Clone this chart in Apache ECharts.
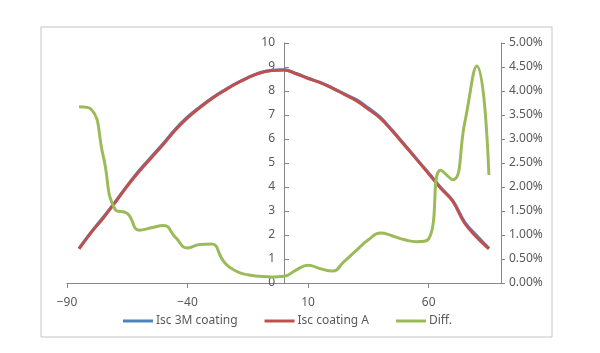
<!DOCTYPE html>
<html>
<head>
<meta charset="utf-8">
<script src="https://cdn.jsdelivr.net/npm/echarts@6/dist/echarts.min.js"></script>
<style>
  html, body { margin: 0; padding: 0; background: #fff; }
  #chart { width: 600px; height: 353px; }
</style>
</head>
<body>
<div id="chart"></div>
<script>
// angle in degrees
const angles = [-85, -80, -75, -70, -65, -60, -55, -50, -45, -40, -35, -30, -25, -20, -15, -10, -5, 0,
  5, 10, 15, 20, 25, 30, 35, 40, 45, 50, 55, 60, 65, 70, 75, 80, 85]
const isc3M = [1.44, 2.12, 2.74, 3.38, 4.06, 4.70, 5.26, 5.82, 6.42, 6.92, 7.33, 7.70, 8.02, 8.31, 8.56, 8.76, 8.86, 8.89,
  8.73, 8.53, 8.36, 8.13, 7.88, 7.64, 7.29, 6.90, 6.35, 5.76, 5.17, 4.58, 3.98, 3.43, 2.53, 1.97, 1.45]
const iscA = [1.42, 2.10, 2.70, 3.36, 4.04, 4.66, 5.22, 5.78, 6.38, 6.88, 7.30, 7.68, 8.00, 8.30, 8.55, 8.75, 8.85, 8.88,
  8.72, 8.52, 8.35, 8.12, 7.86, 7.60, 7.24, 6.86, 6.32, 5.74, 5.15, 4.55, 3.95, 3.40, 2.48, 1.90, 1.42]
const diffPct = [3.67, 3.62, 2.65, 1.53, 1.45, 1.10, 1.15, 1.20, 0.95, 0.73, 0.80, 0.81, 0.45, 0.25, 0.17, 0.14, 0.125, 0.14,
  0.27, 0.37, 0.30, 0.25, 0.45, 0.68, 0.90, 1.04, 0.98, 0.90, 0.86, 0.92, 2.35, 2.15, 3.35, 4.52, 2.25]
const legendNames = ['Isc 3M coating', 'Isc coating A', 'Diff.']

const pairs = vals => angles.map((a, i) => [a, vals[i]])
const txt = '#595959'
const axisGray = '#868686'
const font = 'Noto Sans'
const gridLeft = 67, gridRight = 99

let myChart = echarts.init(document.getElementById('chart'))
// left value axis sits on angle 0, in the middle of the plot
const midOffset = -(600 - gridLeft - gridRight) / 2

myChart.setOption({
  animation: false,
  textStyle: { fontFamily: font },
  grid: { left: gridLeft, right: gridRight, top: 43, bottom: 70 },
  legend: {
    bottom: 21,
    left: 118,
    data: legendNames,
    icon: 'rect',
    itemWidth: 30,
    itemHeight: 3,
    itemGap: 27,
    textStyle: { color: txt, fontSize: 12, fontFamily: font, padding: [0, 0, 0, -2] }
  },
  graphic: [{
    type: 'rect',
    shape: { x: 41, y: 27, width: 511, height: 310 },
    style: { fill: 'none', stroke: '#c4c4c4', lineWidth: 1 },
    silent: true
  }],
  xAxis: {
    type: 'value',
    min: -90,
    max: 90,
    interval: 50,
    splitLine: { show: false },
    axisLine: { show: true, lineStyle: { color: axisGray } },
    axisTick: { show: true, length: 5, lineStyle: { color: axisGray } },
    axisLabel: {
      color: txt,
      fontSize: 12,
      margin: 14,
      showMaxLabel: false,
      formatter: v => v < 0 ? '\u2212' + Math.abs(v) : String(v)
    }
  },
  yAxis: [
    {
      type: 'value',
      min: 0,
      max: 10,
      interval: 1,
      offset: midOffset,
      splitLine: { show: false },
      axisLine: { show: true, onZero: false, lineStyle: { color: axisGray } },
      axisTick: { show: true, inside: true, length: 5, lineStyle: { color: axisGray } },
      axisLabel: { color: txt, fontSize: 12, margin: 9 }
    },
    {
      type: 'value',
      position: 'right',
      min: 0,
      max: 5,
      interval: 0.5,
      splitLine: { show: false },
      axisLine: { show: true, onZero: false, lineStyle: { color: axisGray } },
      axisTick: { show: true, length: 4, lineStyle: { color: axisGray } },
      axisLabel: { color: txt, fontSize: 12, margin: 8, formatter: v => v.toFixed(2) + '%' }
    }
  ],
  series: [
    {
      name: legendNames[0],
      type: 'line',
      data: pairs(isc3M),
      smooth: 0.4,
      showSymbol: false,
      color: '#4F81BD',
      lineStyle: { width: 3 }
    },
    {
      name: legendNames[1],
      type: 'line',
      data: pairs(iscA),
      smooth: 0.4,
      showSymbol: false,
      color: '#C0504D',
      lineStyle: { width: 3 }
    },
    {
      name: legendNames[2],
      type: 'line',
      yAxisIndex: 1,
      data: pairs(diffPct),
      smooth: 0.5,
      showSymbol: false,
      color: '#9BBB59',
      lineStyle: { width: 3 }
    }
  ]
})
</script>
</body>
</html>
